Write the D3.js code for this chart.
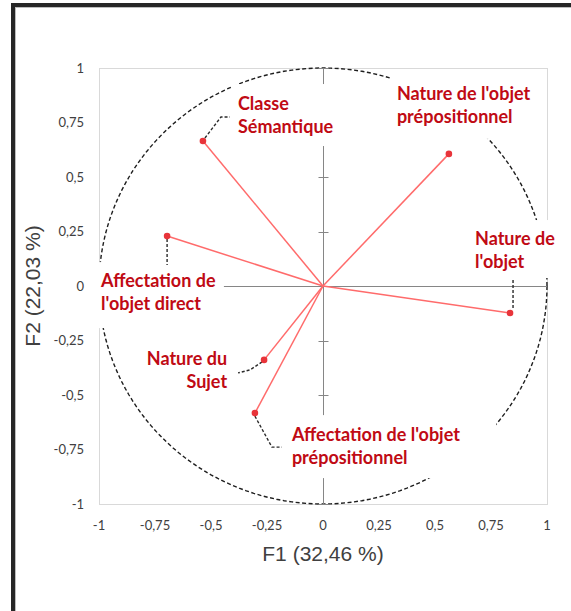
<!DOCTYPE html>
<html>
<head>
<meta charset="utf-8">
<script src="https://cdn.jsdelivr.net/npm/d3@7"></script>
<style>
  html, body { margin: 0; padding: 0; background: #fff; }
  svg { display: block; }
</style>
</head>
<body>
<svg id="chart" width="571" height="611"></svg>
<script>
// Variables projected on the F1 x F2 factorial plane (correlation circle)
const variables = [
  "Classe Sémantique",
  "Affectation de l'objet direct",
  "Nature de l'objet prépositionnel",
  "Nature de l'objet",
  "Nature du Sujet",
  "Affectation de l'objet prépositionnel"
];
const f1Values = [-0.536, -0.696, 0.562, 0.835, -0.263, -0.304];
const f2Values = [0.665, 0.229, 0.606, -0.124, -0.339, -0.583];

// Label text split in lines
const labelLines = [
  ["Classe", "Sémantique"],
  ["Affectation de", "l'objet direct"],
  ["Nature de l'objet", "prépositionnel"],
  ["Nature de", "l'objet"],
  ["Nature du", "Sujet"],
  ["Affectation de l'objet", "prépositionnel"]
];

const tickValues = [-1, -0.75, -0.5, -0.25, 0, 0.25, 0.5, 0.75, 1];
const xTitle = "F1 (32,46 %)";
const yTitle = "F2 (22,03 %)";

// Label placement (pixel offsets from the point), text anchor, leader path and box padding
const labelLayout = [
  { dx: 35, dy: -31, anchor: "start", leader: [[2,-3],[18,-24],[27,-24]], pad: [6,8,6,9] },
  { dx: -66, dy: 51, anchor: "start", leader: [[0,3],[0,29]], pad: [7,7,8,14] },
  { dx: -52, dy: -54, anchor: "start", leader: null, pad: [5,9,10,12] },
  { dx: -35, dy: -68, anchor: "start", leader: [[3,-5],[3,-35]], pad: [7,7,13,6] },
  { dx: -37, dy: 5, anchor: "end", leader: [[-2,2],[-14,10],[-26,13]], pad: [6,7,6,7] },
  { dx: 37, dy: 28, anchor: "start", leader: [[0,3],[17,34],[27,34]], pad: [7,8,36,10] }
];

const svg = d3.select("#chart");
const W = 571, H = 611;
const margin = { left: 99, top: 68, right: 24, bottom: 107 };
const pw = W - margin.left - margin.right;
const ph = H - margin.top - margin.bottom;

const x = d3.scaleLinear().domain([-1, 1]).range([margin.left, margin.left + pw]);
const y = d3.scaleLinear().domain([-1, 1]).range([margin.top + ph, margin.top]);

const fmt = v => String(v).replace(".", ",");

// outer frame
svg.append("rect").attr("x", 13).attr("y", 5).attr("width", 700).attr("height", 700)
  .attr("fill", "none").attr("stroke", "#262626").attr("stroke-width", 4);
svg.append("line").attr("x1", 15.5).attr("x2", 15.5).attr("y1", 7).attr("y2", H)
  .attr("stroke", "#bdbdbd").attr("stroke-width", 1);
svg.append("line").attr("x1", 15).attr("x2", W).attr("y1", 7.5).attr("y2", 7.5)
  .attr("stroke", "#bdbdbd").attr("stroke-width", 1);

// plot area border
svg.append("rect")
  .attr("x", x(-1) + 0.5).attr("y", y(1) + 0.5)
  .attr("width", x(1) - x(-1)).attr("height", y(-1) - y(1))
  .attr("fill", "none").attr("stroke", "#d9d9d9").attr("stroke-width", 1);

// correlation circle (radius 1)
const circlePts = d3.range(0, 361, 2).map(a => [Math.cos(a * Math.PI / 180), Math.sin(a * Math.PI / 180)]);
svg.append("path")
  .attr("d", d3.line().x(d => x(d[0])).y(d => y(d[1]))(circlePts))
  .attr("fill", "none").attr("stroke", "#1e1e1e").attr("stroke-width", 1.4)
  .attr("stroke-dasharray", "4,2.5");

// axes through the origin
svg.append("line").attr("x1", x(-1)).attr("x2", x(1)).attr("y1", Math.round(y(0)) + 0.5).attr("y2", Math.round(y(0)) + 0.5)
  .attr("stroke", "#868686").attr("stroke-width", 1);
svg.append("line").attr("x1", Math.round(x(0)) + 0.5).attr("x2", Math.round(x(0)) + 0.5).attr("y1", y(1)).attr("y2", y(-1))
  .attr("stroke", "#868686").attr("stroke-width", 1);
svg.append("g").selectAll("line").data(tickValues.filter(v => v !== 0)).join("line")
  .attr("x1", Math.round(x(0)) - 4.5).attr("x2", Math.round(x(0)) + 5.5)
  .attr("y1", d => Math.round(y(d)) + 0.5).attr("y2", d => Math.round(y(d)) + 0.5)
  .attr("stroke", "#868686").attr("stroke-width", 1);

// tick labels
svg.append("g").selectAll("text").data(tickValues).join("text")
  .attr("x", 84).attr("y", d => y(d)).attr("dy", "0.35em")
  .attr("text-anchor", "end")
  .attr("font-family", "Lato, 'Open Sans', sans-serif").attr("font-size", 13)
  .attr("fill", "#404040").text(fmt);
svg.append("g").selectAll("text").data(tickValues).join("text")
  .attr("x", d => x(d)).attr("y", 530)
  .attr("text-anchor", "middle")
  .attr("font-family", "Lato, 'Open Sans', sans-serif").attr("font-size", 13)
  .attr("fill", "#404040").text(fmt);

// axis titles
svg.append("text").attr("x", x(0)).attr("y", 561).attr("text-anchor", "middle")
  .attr("font-family", "'Liberation Sans', Arial, sans-serif").attr("font-size", 21)
  .attr("fill", "#404040").text(xTitle);
svg.append("text").attr("transform", `translate(40,${y(0)}) rotate(-90)`).attr("text-anchor", "middle")
  .attr("font-family", "'Liberation Sans', Arial, sans-serif").attr("font-size", 21)
  .attr("fill", "#404040").text(yTitle);

const data = variables.map((name, i) => ({
  name, f1: f1Values[i], f2: f2Values[i], lines: labelLines[i], layout: labelLayout[i]
}));

// label groups (white boxes first so they hide circle and axes)
const boxLayer = svg.append("g");
const vecLayer = svg.append("g");
const leaderLayer = svg.append("g");
const pointLayer = svg.append("g");
const textLayer = svg.append("g");

// vectors from the origin
vecLayer.selectAll("line").data(data).join("line")
  .attr("x1", x(0)).attr("y1", y(0))
  .attr("x2", d => x(d.f1)).attr("y2", d => y(d.f2))
  .attr("stroke", "#ff6b6b").attr("stroke-width", 1.5);

// leader lines
leaderLayer.selectAll("path").data(data.filter(d => d.layout.leader)).join("path")
  .attr("d", d => d3.line()(d.layout.leader.map(p => [x(d.f1) + p[0], y(d.f2) + p[1]])))
  .attr("fill", "none").attr("stroke", "#2a2a2a").attr("stroke-width", 1.4)
  .attr("stroke-dasharray", "3,2");

// points
pointLayer.selectAll("circle").data(data).join("circle")
  .attr("cx", d => x(d.f1)).attr("cy", d => y(d.f2)).attr("r", 3.3)
  .attr("fill", "#e8343a");

// labels
const lineH = 23;
const texts = textLayer.selectAll("text").data(data).join("text")
  .attr("x", d => x(d.f1) + d.layout.dx)
  .attr("y", d => y(d.f2) + d.layout.dy)
  .attr("text-anchor", d => d.layout.anchor)
  .attr("font-family", "Lato, 'Open Sans', sans-serif").attr("font-weight", "bold")
  .attr("font-size", 18).attr("fill", "#c00a14");
texts.each(function(d) {
  const t = d3.select(this);
  d.lines.forEach((ln, k) => {
    t.append("tspan").attr("x", x(d.f1) + d.layout.dx).attr("dy", k === 0 ? 0 : lineH).text(ln);
  });
});
texts.each(function(d) {
  const b = this.getBBox();
  const p = d.layout.pad;
  boxLayer.append("rect")
    .attr("x", b.x - p[0]).attr("y", b.y - p[1])
    .attr("width", b.width + p[0] + p[2]).attr("height", b.height + p[1] + p[3])
    .attr("fill", "#fff");
});
</script>
</body>
</html>
